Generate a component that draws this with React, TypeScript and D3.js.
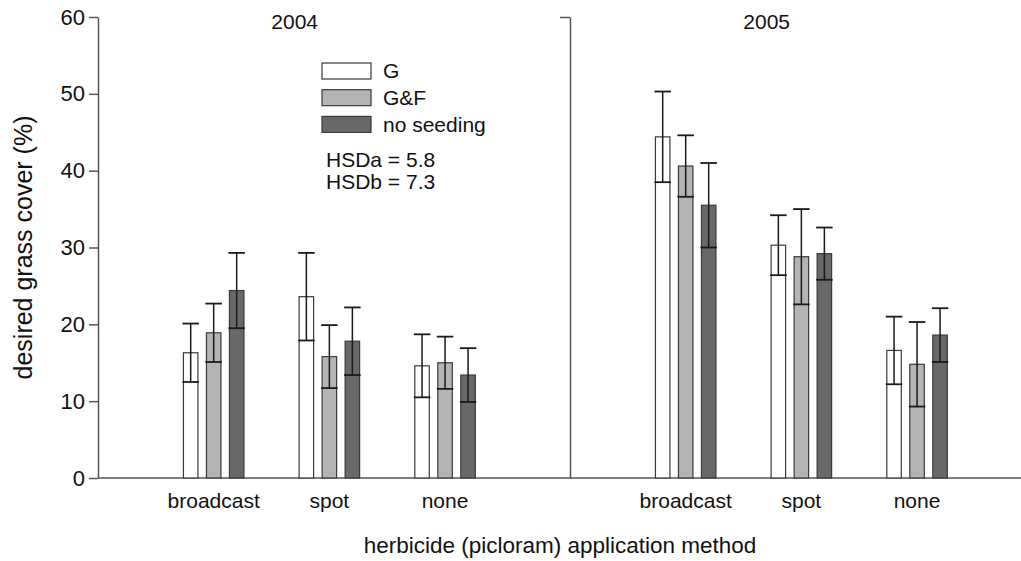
import { useEffect, useRef } from 'react';
import * as d3 from 'd3';

const years = ['2004', '2005'];
const methods = ['broadcast', 'spot', 'none'];
const seedings = ['G', 'G&F', 'no seeding'];
const seedColors = ['#ffffff', '#b4b4b4', '#686868'];

// mean cover per method (rows) and seeding (cols)
const means2004 = [
  [16.3, 18.9, 24.4],
  [23.6, 15.8, 17.8],
  [14.6, 15.0, 13.4],
];
const errs2004 = [
  [3.8, 3.8, 4.9],
  [5.7, 4.1, 4.4],
  [4.1, 3.4, 3.5],
];
const means2005 = [
  [44.4, 40.6, 35.5],
  [30.3, 28.8, 29.2],
  [16.6, 14.8, 18.6],
];
const errs2005 = [
  [5.9, 4.0, 5.5],
  [3.9, 6.2, 3.4],
  [4.4, 5.5, 3.5],
];
const yTicks = [0, 10, 20, 30, 40, 50, 60];
const hsdLines = ['HSDa = 5.8', 'HSDb = 7.3'];

const FONT = '"Liberation Sans", Arial, sans-serif';

export default function App() {
  const svgRef = useRef<SVGSVGElement>(null);

  useEffect(() => {
    if (!svgRef.current) return;
    const width = 1021;
    const height = 561;
    const svg = d3.select(svgRef.current);
    svg.selectAll('*').remove();
    svg.attr('width', width).attr('height', height);

    const left = 98;
    const panelW = 472;
    const y = d3.scaleLinear().domain([0, 60]).range([478, 17]);
    const xPanel = d3.scaleBand<string>().domain(years).range([left, left + panelW * 2]);
    const xGroup = d3.scaleLinear().domain([0, 4.08]).range([0, panelW]);
    const xSeed = d3
      .scaleBand<string>()
      .domain(seedings)
      .range([-34.5, 34.5])
      .paddingInner(0.37)
      .paddingOuter(0.185);

    const axisColor = '#555';
    const textColor = '#111';

    // Left y axis
    svg.append('g')
      .attr('transform', `translate(${left},0)`)
      .call(d3.axisLeft(y).tickValues(yTicks).tickSize(9).tickSizeOuter(0).tickPadding(4))
      .call((gg) => {
        gg.select('.domain').attr('stroke', axisColor).attr('stroke-width', 1.5);
        gg.selectAll('.tick line').attr('stroke', axisColor).attr('stroke-width', 1.5);
        gg.selectAll('.tick text')
          .attr('fill', textColor)
          .attr('font-size', 22)
          .attr('font-family', FONT);
      });

    // Panel divider with top tick
    svg.append('g')
      .attr('transform', `translate(${xPanel('2005')},0)`)
      .call(d3.axisLeft(y).tickValues([60]).tickSize(10).tickSizeOuter(0).tickFormat(() => ''))
      .call((gg) => {
        gg.select('.domain').attr('stroke', axisColor).attr('stroke-width', 1.5);
        gg.selectAll('.tick line').attr('stroke', axisColor).attr('stroke-width', 1.5);
      });

    // X baseline
    svg.append('line')
      .attr('x1', left)
      .attr('x2', width)
      .attr('y1', y(0))
      .attr('y2', y(0))
      .attr('stroke', axisColor)
      .attr('stroke-width', 1.5);

    const panels = [
      { year: '2004', means: means2004, errs: errs2004 },
      { year: '2005', means: means2005, errs: errs2005 },
    ];

    panels.forEach((p) => {
      const px = xPanel(p.year)!;
      const g = svg.append('g').attr('transform', `translate(${px},0)`);

      // year label
      g.append('text')
        .attr('x', xGroup(1.7))
        .attr('y', 29)
        .attr('text-anchor', 'middle')
        .attr('fill', textColor)
        .attr('font-size', 21)
        .attr('font-family', FONT)
        .text(p.year);

      methods.forEach((m, mi) => {
        const cx = xGroup(mi + 1);
        g.append('text')
          .attr('x', cx)
          .attr('y', 508)
          .attr('text-anchor', 'middle')
          .attr('fill', textColor)
          .attr('font-size', 21)
          .attr('font-family', FONT)
          .text(m);

        seedings.forEach((s, si) => {
          const v = p.means[mi][si];
          const e = p.errs[mi][si];
          const bx = cx + xSeed(s)!;
          const bw = xSeed.bandwidth();
          g.append('rect')
            .attr('x', bx)
            .attr('y', y(v))
            .attr('width', bw)
            .attr('height', y(0) - y(v))
            .attr('fill', seedColors[si])
            .attr('stroke', '#3a3a3a')
            .attr('stroke-width', 1.2);

          const mx = bx + bw / 2;
          const capW = bw + 2;
          g.append('line')
            .attr('x1', mx).attr('x2', mx)
            .attr('y1', y(v - e)).attr('y2', y(v + e))
            .attr('stroke', '#1a1a1a').attr('stroke-width', 1.5);
          [v - e, v + e].forEach((cv) => {
            g.append('line')
              .attr('x1', mx - capW / 2).attr('x2', mx + capW / 2)
              .attr('y1', y(cv)).attr('y2', y(cv))
              .attr('stroke', '#1a1a1a').attr('stroke-width', 1.8);
          });
        });
      });
    });

    // Legend
    const legend = svg.append('g').attr('transform', 'translate(322,63)');
    seedings.forEach((s, i) => {
      const row = legend.append('g').attr('transform', `translate(0,${i * 26.7})`);
      row.append('rect')
        .attr('width', 49)
        .attr('height', 16)
        .attr('fill', seedColors[i])
        .attr('stroke', '#3a3a3a')
        .attr('stroke-width', 1.2);
      row.append('text')
        .attr('x', 61)
        .attr('y', 8)
        .attr('dy', '0.35em')
        .attr('fill', textColor)
        .attr('font-size', 21)
        .attr('font-family', FONT)
        .text(s);
    });
    hsdLines.forEach((t, i) => {
      legend.append('text')
        .attr('x', 4)
        .attr('y', 104 + i * 22)
        .attr('fill', textColor)
        .attr('font-size', 21)
        .attr('font-family', FONT)
        .text(t);
    });

    // Axis titles
    svg.append('text')
      .attr('x', 560)
      .attr('y', 553)
      .attr('text-anchor', 'middle')
      .attr('fill', textColor)
      .attr('font-size', 22.5)
      .attr('font-family', FONT)
      .text('herbicide (picloram) application method');

    svg.append('text')
      .attr('transform', `translate(32,${(y(0) + y(60)) / 2}) rotate(-90)`)
      .attr('text-anchor', 'middle')
      .attr('fill', textColor)
      .attr('font-size', 25)
      .attr('font-family', FONT)
      .text('desired grass cover (%)');
  }, []);

  return (
    <div style={{ width: 1021, height: 561, background: '#fff' }}>
      <style>{'body{margin:0}'}</style>
      <svg ref={svgRef} style={{ display: 'block' }} />
    </div>
  );
}
